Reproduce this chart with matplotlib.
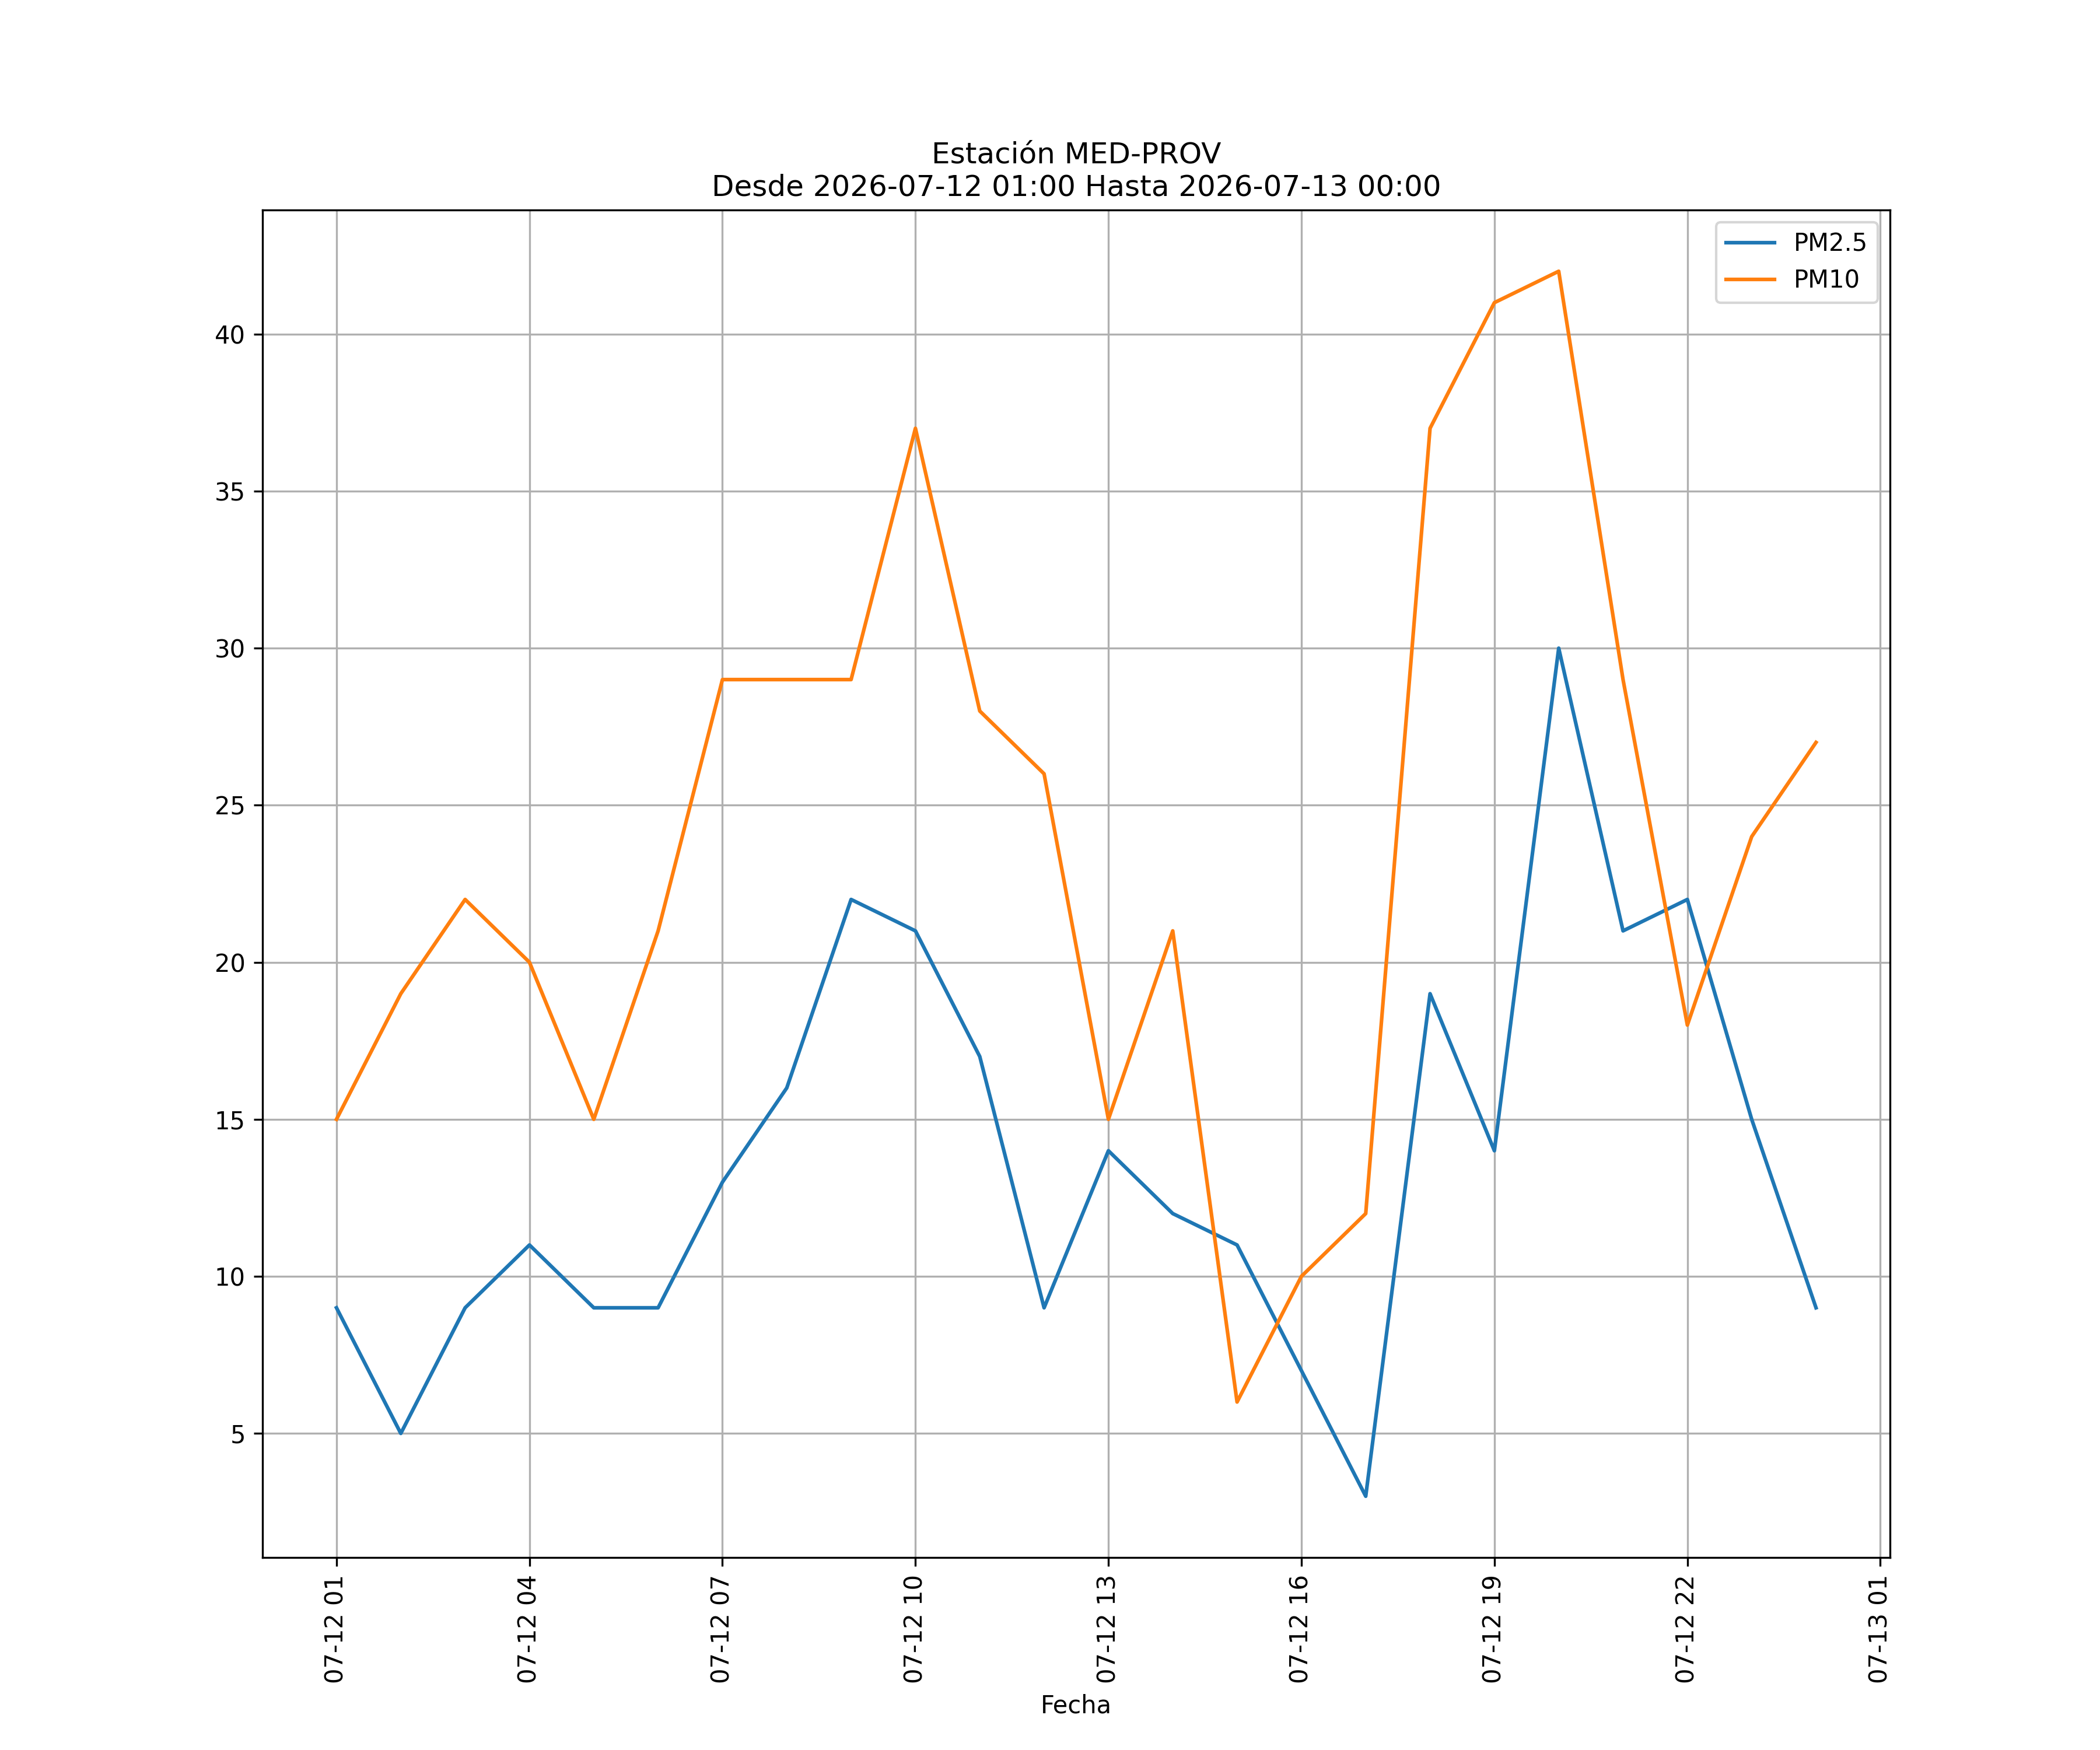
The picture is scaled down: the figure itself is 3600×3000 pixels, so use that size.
import matplotlib
matplotlib.use("Agg")
import matplotlib.pyplot as plt
import matplotlib.dates as mdates
import pandas as pd

# Hourly readings for station MED-PROV
fechas = pd.date_range("2026-07-12 01:00", "2026-07-13 00:00", freq="h")
pm25 = [9, 5, 9, 11, 9, 9, 13, 16, 22, 21, 17, 9,
        14, 12, 11, 7, 3, 19, 14, 30, 21, 22, 15, 9]
pm10 = [15, 19, 22, 20, 15, 21, 29, 29, 29, 37, 28, 26,
        15, 21, 6, 10, 12, 37, 41, 42, 29, 18, 24, 27]

fig, ax = plt.subplots(figsize=(12, 10))

ax.plot(fechas, pm25, label="PM2.5")
ax.plot(fechas, pm10, label="PM10")

ax.set_title("Estación MED-PROV\nDesde 2026-07-12 01:00 Hasta 2026-07-13 00:00")
ax.set_xlabel("Fecha")
ax.xaxis.set_major_locator(mdates.HourLocator(byhour=range(1, 24, 3)))
ax.xaxis.set_major_formatter(mdates.DateFormatter("%m-%d %H"))
plt.setp(ax.get_xticklabels(), rotation=90)
ax.grid(True)
ax.legend(loc="upper right")

plt.savefig("out.png", dpi=300)
plt.close()
